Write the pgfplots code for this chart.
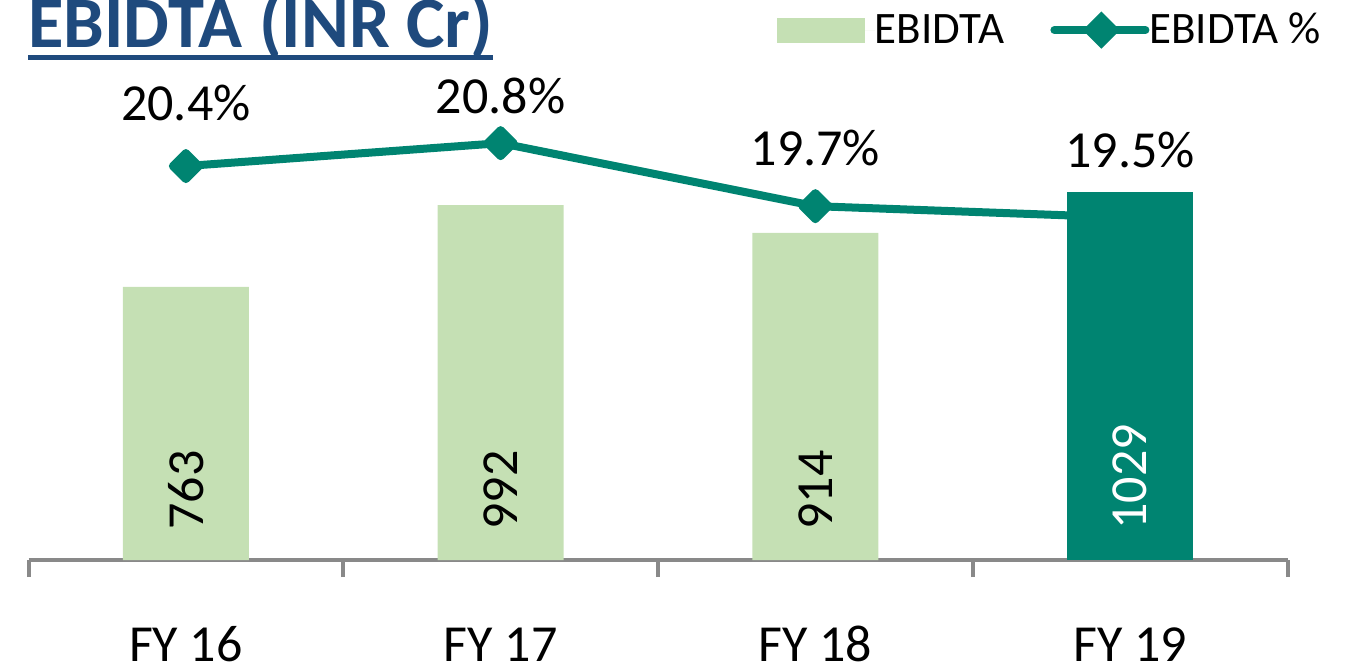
\documentclass[border=0pt]{standalone}
\usepackage{pgfplots}
\pgfplotsset{compat=1.18}
\usepackage{pgfplotstable}
\usepackage{fontspec}
\setmainfont{Carlito}
\definecolor{lightgr}{RGB}{197,224,180}
\definecolor{teal1}{RGB}{0,132,113}
\definecolor{axgray}{RGB}{137,137,137}
\definecolor{titleblue}{RGB}{31,74,125}

\pgfplotsset{
  barleg/.style={legend image code/.code={\fill[lightgr] (0pt,-6.25pt) rectangle (44pt,6.25pt); \path (44pt,0pt) -- (49pt,0pt);}},
  lineleg/.style={legend image code/.code={\draw[mark repeat=2, mark phase=2, ##1] plot coordinates {(2pt,0pt) (23.5pt,0pt) (45pt,0pt)}; \path (0pt,0pt) -- (45.5pt,0pt);}}
}

\pgfplotstableread{
x y shift
0 20.4 23.0
1 20.8 14.6
2 19.7 20.1
3 19.5 25.3
}\pcttable

\begin{document}
\begin{tikzpicture}
\path[use as bounding box] (0,0) rectangle (682.5pt,335.5pt);
\node[anchor=base west, inner sep=0pt, font=\fontsize{36.3}{40}\selectfont\bfseries, text=titleblue] at (14pt,311.5pt) {EBIDTA (INR Cr)};
\fill[titleblue] (14pt,305.5pt) rectangle (246.5pt,308pt);

\begin{axis}[at={(14.25pt,55.5pt)}, anchor=south west, scale only axis,
  width=629.5pt, height=240pt, xmin=-0.5, xmax=3.5, ymin=13.525, ymax=21.902,
  hide axis, clip=false]
\addplot[teal1, line width=4pt, line join=round, mark=square*, mark size=4.6pt,
  mark options={rotate=45, draw=none, fill=teal1},
  nodes near coords={\pgfmathprintnumber[fixed,fixed zerofill,precision=1,assume math mode=true]{\pgfplotspointmeta}\%},
  point meta=y,
  visualization depends on={\thisrow{shift} \as \myshift},
  every node near coord/.append style={anchor=base, yshift=\myshift pt, text=black, font=\fontsize{26}{30}\selectfont, inner sep=0pt}]
  table[x=x,y=y] {\pcttable};
\end{axis}

\begin{axis}[at={(14.25pt,55.5pt)}, anchor=south west, scale only axis,
  width=629.5pt, height=240pt, xmin=-0.5, xmax=3.5, ymin=0, ymax=1341.5,
  clip=false,
  axis x line*=bottom, axis y line=none,
  x axis line style={draw=axgray, line width=2pt},
  xtick={0,1,2,3}, xticklabels={FY 16,FY 17,FY 18,FY 19},
  minor xtick={-0.5,0.5,1.5,2.5,3.5},
  tick align=outside, major tick length=0pt, minor tick length=8.5pt,
  tick style={draw=axgray, line width=2pt},
  xticklabel style={font=\fontsize{26}{30}\selectfont, anchor=base, yshift=-50.5pt},
  legend style={at={(axis description cs:0.5945,1.104)}, anchor=west, draw=none, fill=none,
    inner sep=0pt, outer sep=0pt, font=\fontsize{22.5}{26}\selectfont,
    /tikz/every even column/.append style={column sep=23pt}, nodes={inner sep=0pt}},
  legend columns=2]
\addplot[ybar, bar width=63pt, bar shift=0pt, fill=lightgr, draw=none, barleg]
  coordinates {(0,763) (1,992) (2,914)};
\addlegendentry{EBIDTA}
\addlegendimage{teal1, line width=4pt, line cap=round, mark=square*, mark size=4.6pt,
  mark options={rotate=45, draw=none, fill=teal1}, lineleg}
\addlegendentry{EBIDTA \%}
\addplot[ybar, bar width=63pt, bar shift=0pt, fill=teal1, draw=none, forget plot]
  coordinates {(3,1029)};
\addplot[draw=none, mark=none, forget plot, nodes near coords, point meta=explicit symbolic,
  every node near coord/.append style={rotate=90, anchor=west, inner sep=0pt, font=\fontsize{26}{30}\selectfont, text=black}]
  coordinates {(0,83.8) [763] (1,83.8) [992] (2,83.8) [914]};
\addplot[draw=none, mark=none, forget plot, nodes near coords, point meta=explicit symbolic,
  every node near coord/.append style={rotate=90, anchor=west, inner sep=0pt, font=\fontsize{26}{30}\selectfont, text=white}]
  coordinates {(3,83.8) [1029]};
\end{axis}
\end{tikzpicture}
\end{document}
